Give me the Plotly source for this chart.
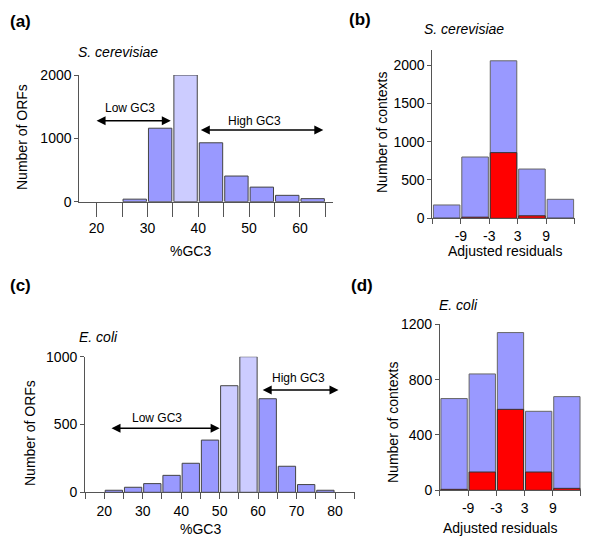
import plotly.graph_objects as go

# ---------------- data ----------------
sc_gc3_centers = [27.5, 32.5, 37.5, 42.5, 47.5, 52.5, 57.5, 62.5]
sc_orfs = [40, 1160, 2000, 930, 405, 230, 100, 48]
sc_mid = [0, 0, 1, 0, 0, 0, 0, 0]

ec_gc3_centers = [22.5, 27.5, 32.5, 37.5, 42.5, 47.5, 52.5, 57.5, 62.5, 67.5, 72.5, 77.5]
ec_orfs = [15, 37, 64, 125, 214, 385, 786, 1000, 690, 192, 57, 15]
ec_mid = [0, 0, 0, 0, 0, 0, 1, 1, 0, 0, 0, 0]

resid_centers = [-12, -6, 0, 6, 12]
sc_contexts_total = [174, 800, 2055, 643, 248]
sc_contexts_red = [0, 15, 857, 33, 0]
ec_contexts_total = [663, 841, 1140, 571, 677]
ec_contexts_red = [7, 132, 585, 132, 14]

sc_gc_tickvals = [20, 25, 30, 35, 40, 45, 50, 55, 60, 65]
sc_gc_ticktext = ["20", "", "30", "", "40", "", "50", "", "60", ""]
ec_gc_tickvals = [15, 20, 25, 30, 35, 40, 45, 50, 55, 60, 65, 70, 75, 80, 85]
ec_gc_ticktext = ["", "20", "", "30", "", "40", "", "50", "", "60", "", "70", "", "80", ""]
res_tickvals = [-15, -9, -3, 3, 9, 15]
res_ticktext = ["", "-9", "-3", "3", "9", ""]
sc_orf_ticks = [0, 1000, 2000]
sc_ctx_ticks = [0, 500, 1000, 1500, 2000]
ec_orf_ticks = [0, 500, 1000]
ec_ctx_ticks = [0, 400, 800, 1200]

# arrows: (x_start, x_end, y) and label (x, y)
sc_low_arrow = (19.7, 34.6, 1279)
sc_high_arrow = (40.2, 64.6, 1132)
sc_low_label = (26.6, 1479)
sc_high_label = (51.0, 1274)
ec_low_arrow = (21.5, 50.0, 472)
ec_high_arrow = (60.8, 80.9, 754)
ec_low_label = (33.7, 545)
ec_high_label = (70.5, 845)

BLUE = "#9999ff"
LIGHT = "#ccccff"
RED = "#ff0000"
EDGE = "#444444"
AXC = "#555555"
FONT = "Liberation Sans, Arial, sans-serif"

fig = go.Figure()

fig.add_trace(go.Bar(x=sc_gc3_centers, y=sc_orfs, width=4.6,
                     marker=dict(color=[LIGHT if m else BLUE for m in sc_mid],
                                 line=dict(color=EDGE, width=1)),
                     xaxis="x", yaxis="y", showlegend=False))
fig.add_trace(go.Bar(x=resid_centers, y=sc_contexts_total, width=5.6,
                     marker=dict(color=BLUE, line=dict(color="#666666", width=1)),
                     xaxis="x2", yaxis="y2", showlegend=False))
fig.add_trace(go.Bar(x=resid_centers, y=sc_contexts_red, width=5.6,
                     marker=dict(color=RED, line=dict(color="#333333", width=1)),
                     xaxis="x2", yaxis="y2", showlegend=False))
fig.add_trace(go.Bar(x=ec_gc3_centers, y=ec_orfs, width=4.5,
                     marker=dict(color=[LIGHT if m else BLUE for m in ec_mid],
                                 line=dict(color=EDGE, width=1)),
                     xaxis="x3", yaxis="y3", showlegend=False))
fig.add_trace(go.Bar(x=resid_centers, y=ec_contexts_total, width=5.6,
                     marker=dict(color=BLUE, line=dict(color="#666666", width=1)),
                     xaxis="x4", yaxis="y4", showlegend=False))
fig.add_trace(go.Bar(x=resid_centers, y=ec_contexts_red, width=5.6,
                     marker=dict(color=RED, line=dict(color="#333333", width=1)),
                     xaxis="x4", yaxis="y4", showlegend=False))

tickfont = dict(family=FONT, size=14, color="black")


def xax(domain, rng, tv, tt, anchor, ticklen):
    return dict(domain=domain, range=rng, tickvals=tv, ticktext=tt, anchor=anchor,
                showline=True, linecolor=AXC, linewidth=1, ticks="outside",
                ticklen=ticklen, tickcolor=AXC, showgrid=False, zeroline=False,
                tickfont=tickfont, fixedrange=True, automargin=False)


def yax(domain, rng, tv, anchor):
    return dict(domain=domain, range=rng, tickvals=tv, anchor=anchor,
                showline=True, linecolor=AXC, linewidth=1, ticks="outside",
                ticklen=4, tickcolor=AXC, showgrid=False, zeroline=False,
                tickfont=tickfont, fixedrange=True, automargin=False)


fig.update_layout(
    width=600, height=542, margin=dict(l=0, r=0, t=0, b=0, pad=0, autoexpand=False),
    autosize=False,
    paper_bgcolor="white", plot_bgcolor="white", barmode="overlay",
    font=dict(family=FONT, size=14, color="black"),
    xaxis=xax([0.1322, 0.555], [16.6, 66.5], sc_gc_tickvals, sc_gc_ticktext, "y", 14),
    yaxis=yax([0.6279, 0.8616], [0, 2000], sc_orf_ticks, "x"),
    xaxis2=xax([0.7207, 0.9577], [-15, 15], res_tickvals, res_ticktext, "y2", 5),
    yaxis2=yax([0.5972, 0.9083], [0, 2200], sc_ctx_ticks, "x2"),
    xaxis3=xax([0.1417, 0.5917], [15, 85.2], ec_gc_tickvals, ec_gc_ticktext, "y3", 6),
    yaxis3=yax([0.0917, 0.3419], [0, 1000], ec_orf_ticks, "x3"),
    xaxis4=xax([0.7333, 0.9683], [-15, 15], res_tickvals, res_ticktext, "y4", 5),
    yaxis4=yax([0.0954, 0.4017], [0, 1200], ec_ctx_ticks, "x4"),
)

anns = []


def ptext(txt, px, py, size=14, bold=False, italic=False, xanchor="center", angle=0):
    t = txt
    if bold:
        t = "<b>" + t + "</b>"
    if italic:
        t = "<i>" + t + "</i>"
    anns.append(dict(text=t, x=px / 600, y=1 - py / 542, xref="paper", yref="paper",
                     showarrow=False, xanchor=xanchor, yanchor="middle", textangle=angle,
                     font=dict(family=FONT, size=size, color="black")))


ptext("(a)", 8, 21, size=17, bold=True, xanchor="left")
ptext("(b)", 347, 20, size=17, bold=True, xanchor="left")
ptext("(c)", 8, 285, size=17, bold=True, xanchor="left")
ptext("(d)", 349, 285, size=17, bold=True, xanchor="left")
ptext("S. cerevisiae", 76, 52, size=14, italic=True, xanchor="left")
ptext("S. cerevisiae", 464, 29, size=14, italic=True)
ptext("E. coli", 77, 337, size=14, italic=True, xanchor="left")
ptext("E. coli", 458, 305, size=14, italic=True)
ptext("%GC3", 190, 251)
ptext("%GC3", 200, 529)
ptext("Adjusted residuals", 505, 251)
ptext("Adjusted residuals", 500, 528)
ptext("Number of ORFs", 22, 137, angle=-90)
ptext("Number of ORFs", 30, 433, angle=-90)
ptext("Number of contexts", 382, 133, angle=-90)
ptext("Number of contexts", 393, 423, angle=-90)


def arrow(a, xr, yr):
    x0, x1, y = a
    anns.append(dict(x=x1, y=y, ax=x0, ay=y, xref=xr, yref=yr, axref=xr, ayref=yr,
                     text="", showarrow=True, arrowhead=2, arrowside="end+start",
                     arrowsize=1.2, arrowwidth=1.5, arrowcolor="black"))


def dlabel(txt, p, xr, yr):
    anns.append(dict(x=p[0], y=p[1], xref=xr, yref=yr, text=txt, showarrow=False,
                     font=dict(family=FONT, size=12, color="black")))


arrow(sc_low_arrow, "x", "y")
arrow(sc_high_arrow, "x", "y")
dlabel("Low GC3", sc_low_label, "x", "y")
dlabel("High GC3", sc_high_label, "x", "y")
arrow(ec_low_arrow, "x3", "y3")
arrow(ec_high_arrow, "x3", "y3")
dlabel("Low GC3", ec_low_label, "x3", "y3")
dlabel("High GC3", ec_high_label, "x3", "y3")

fig.update_layout(annotations=anns)
fig.write_html("out.html", config={"displayModeBar": False},
               post_script="document.body.style.margin='0';document.body.style.padding='0';"
                           "document.body.style.overflow='hidden';")
